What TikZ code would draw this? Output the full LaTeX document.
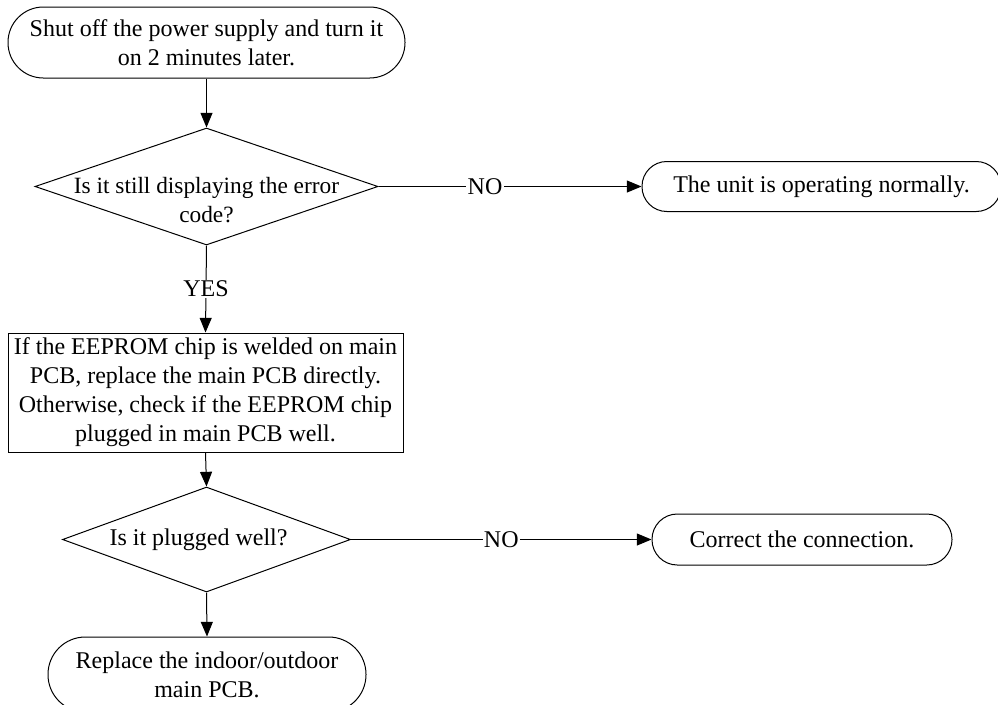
\documentclass[tikz,border=0pt]{standalone}
\usepackage{fontspec}
\setmainfont{Liberation Serif}
\usetikzlibrary{shapes.geometric,arrows.meta}

\begin{document}
\begin{tikzpicture}[x=0.75pt, y=-0.75pt, line width=0.75pt,
  font=\fontsize{18}{21.75}\selectfont,
  term/.style={draw, rectangle, inner sep=0pt, align=center},
  proc/.style={draw, rectangle, inner sep=0pt, align=center},
  dec/.style={draw, diamond, inner sep=0pt},
  flow/.style={-{Triangle[length=11pt,width=9pt]}},
  lbl/.style={fill=white, inner sep=1pt}]

  % page frame
  \useasboundingbox (0,0) rectangle (998,704);
  \clip (0,0) rectangle (998,704);

  % terminals, process box and decisions
  \node[term, minimum width=297.75pt, minimum height=53.25pt, rounded corners=26.5pt]
    (start) at (206.5,42.5) {Shut off the power supply and turn it\\on 2 minutes later.};

  \node[dec, minimum width=257.25pt, minimum height=87.75pt] (q1) at (206.5,186.5) {};
  \node[align=center, font=\fontsize{17.5}{21.75}\selectfont] (q1t) at ([yshift=-10.5pt]q1.center)
    {Is it still displaying the error\\code?};

  \node[term, minimum width=269.25pt, minimum height=37.5pt, rounded corners=18.6pt]
    (ok) at (821.5,186.5) {The unit is operating normally.};

  \node[proc, minimum width=296.25pt, minimum height=89.25pt] (chk) at (205.5,392.5)
    {If the EEPROM chip is welded on main\\PCB, replace the main PCB directly.\\Otherwise, check if the EEPROM chip\\plugged in main PCB well.};

  \node[dec, minimum width=216pt, minimum height=78.75pt] (q2) at (206.5,539.5) {};
  \node (q2t) at ([xshift=-6pt]q2.center) {Is it plugged well?};

  \node[term, minimum width=225pt, minimum height=38.25pt, rounded corners=19pt]
    (fix) at (802,539.5) {Correct the connection.};

  \node[term, minimum width=238.5pt, minimum height=56.25pt, rounded corners=28pt]
    (rep) at (207,674.5) {Replace the indoor/outdoor\\main PCB.};

  % connectors
  \draw[flow] (start.south) -- (q1.north);
  \draw[flow] (q1.east) -- node[lbl, pos=0.405] {NO} (ok.west);
  \draw[flow] (q1.south) -- node[lbl] {YES} (chk.north);
  \draw[flow] (chk.south) -- (q2.north);
  \draw[flow] (q2.east) -- node[lbl, pos=0.5] {NO} (fix.west);
  \draw[flow] (q2.south) -- (rep.north);
\end{tikzpicture}
\end{document}
